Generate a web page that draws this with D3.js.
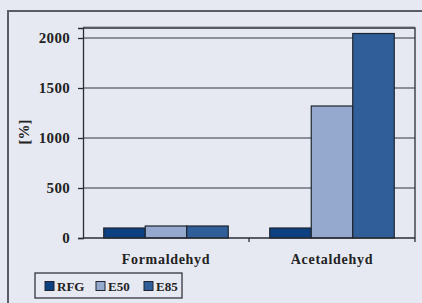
<!DOCTYPE html>
<html>
<head>
<meta charset="utf-8">
<script src="https://cdn.jsdelivr.net/npm/d3@7"></script>
<style>
  body { margin: 0; background: #e6e9f2; }
  svg { display: block; }
  text { font-family: "Liberation Serif", "Times New Roman", serif; font-weight: bold; fill: #222; }
</style>
</head>
<body>
<div id="chart"></div>
<script>
var categories = ["Formaldehyd", "Acetaldehyd"];
var seriesNames = ["RFG", "E50", "E85"];
var rfgValues = [100, 100];
var e50Values = [120, 1320];
var e85Values = [120, 2045];
var yTicks = [0, 500, 1000, 1500, 2000];

var colors = { RFG: "#0d4080", E50: "#95a8cd", E85: "#2f5e98" };

var W = 422, H = 303;
var margin = {top: 28, right: 7, bottom: 65, left: 83};
var width = W - margin.left - margin.right,
    height = 238 - margin.top;

var svg = d3.select("#chart").append("svg")
  .attr("width", W)
  .attr("height", H);

// outer frame
svg.append("rect")
  .attr("x", 8).attr("y", 11)
  .attr("width", W + 10).attr("height", H + 10)
  .attr("fill", "#e6e9f2")
  .attr("stroke", "#5a5d66")
  .attr("stroke-width", 2);

var g = svg.append("g")
  .attr("transform", "translate(" + margin.left + "," + margin.top + ")");

var x0 = d3.scaleBand()
  .domain(categories)
  .range([0, width])
  .padding(0);

var x1 = d3.scaleBand()
  .domain(seriesNames)
  .range([0, x0.bandwidth()])
  .paddingOuter(0.5)
  .paddingInner(0);

var y = d3.scaleLinear()
  .domain([0, 2100])
  .range([height, 0]);

// gridlines
g.selectAll(".grid")
  .data(yTicks.filter(function(d) { return d > 0; }))
  .enter().append("line")
  .attr("x1", 0).attr("x2", width)
  .attr("y1", function(d) { return y(d); })
  .attr("y2", function(d) { return y(d); })
  .attr("stroke", "#6b707b")
  .attr("stroke-width", 1.3);

// plot frame top/right
g.append("path")
  .attr("d", "M0,-1.5H" + width)
  .attr("stroke", "#b4b8c2").attr("stroke-width", 1).attr("fill", "none");
g.append("path")
  .attr("d", "M0,0H" + width + "V" + height)
  .attr("stroke", "#2a2d35").attr("stroke-width", 1.3).attr("fill", "none");

var seriesData = [rfgValues, e50Values, e85Values];

var groups = g.selectAll(".cat")
  .data(categories)
  .enter().append("g")
  .attr("transform", function(d) { return "translate(" + x0(d) + ",0)"; });

groups.selectAll("rect")
  .data(function(c, i) {
    return seriesNames.map(function(s, j) { return {key: s, value: seriesData[j][i]}; });
  })
  .enter().append("rect")
  .attr("x", function(d) { return x1(d.key); })
  .attr("y", function(d) { return y(d.value); })
  .attr("width", x1.bandwidth())
  .attr("height", function(d) { return height - y(d.value); })
  .attr("fill", function(d) { return colors[d.key]; })
  .attr("stroke", "#1e2530")
  .attr("stroke-width", 1.2);

// y axis
var yAxis = g.append("g")
  .call(d3.axisLeft(y).tickValues(yTicks).tickFormat(d3.format("d")).tickSize(5).tickPadding(8));
yAxis.select(".domain").attr("stroke", "#2a2d35").attr("stroke-width", 1.3);
yAxis.selectAll(".tick line").attr("stroke", "#2a2d35").attr("stroke-width", 1.3);
yAxis.selectAll(".tick text")
  .style("font-size", "15px")
  .style("letter-spacing", "0.3px");

// x axis line with boundary ticks
var xAxis = g.append("g")
  .attr("transform", "translate(0," + height + ")");
xAxis.append("line")
  .attr("x1", 0).attr("x2", width)
  .attr("stroke", "#2a2d35").attr("stroke-width", 1.3);
xAxis.selectAll(".xt")
  .data(categories.slice(1).concat(["end"]))
  .enter().append("line")
  .attr("x1", function(d) { return d === "end" ? width : x0(d); })
  .attr("x2", function(d) { return d === "end" ? width : x0(d); })
  .attr("y1", 0).attr("y2", 4)
  .attr("stroke", "#2a2d35").attr("stroke-width", 1.3);
xAxis.selectAll(".xl")
  .data(categories)
  .enter().append("text")
  .attr("x", function(d) { return x0(d) + x0.bandwidth() / 2; })
  .attr("y", 26)
  .attr("text-anchor", "middle")
  .style("font-size", "14px")
  .style("letter-spacing", "0.7px")
  .text(function(d) { return d; });

// y label
svg.append("text")
  .attr("transform", "translate(29,132) rotate(-90)")
  .attr("text-anchor", "middle")
  .style("font-size", "15px")
  .text("[%]");

// legend
var legend = svg.append("g").attr("transform", "translate(35,273)");
legend.append("rect")
  .attr("width", 147).attr("height", 25)
  .attr("fill", "none")
  .attr("stroke", "#33363d").attr("stroke-width", 1.3);
var legX = [10, 61, 109];
var item = legend.selectAll(".li")
  .data(seriesNames)
  .enter().append("g")
  .attr("transform", function(d, i) { return "translate(" + legX[i] + ",0)"; });
item.append("rect")
  .attr("y", 8.5).attr("width", 9).attr("height", 9)
  .attr("fill", function(d) { return colors[d]; })
  .attr("stroke", "#1e2530").attr("stroke-width", 1);
item.append("text")
  .attr("x", 12).attr("y", 17.5)
  .style("font-size", "13px")
  .text(function(d) { return d; });
</script>
</body>
</html>
